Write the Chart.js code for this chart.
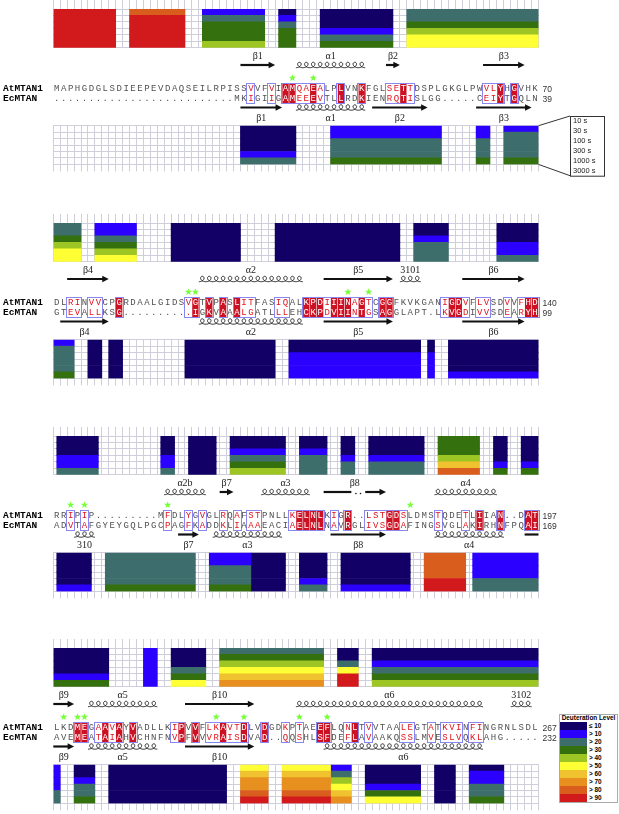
<!DOCTYPE html>
<html>
<head>
<meta charset="utf-8">
<script src="https://cdn.jsdelivr.net/npm/chart.js@4.4.0/dist/chart.umd.min.js"></script>
<style>
html, body { margin: 0; padding: 0; background: #fff; }
#page { position: relative; width: 619px; height: 814px; overflow: hidden; background: #fff; }
.box { position: absolute; left: 0; width: 619px; }
#legend { position: absolute; left: 559px; top: 714px; width: 57px; border: 1px solid #aaa;
  font-family: "Liberation Sans", Arial, sans-serif; font-weight: bold; background: #fff; }
#legend .lt { font-size: 6.4px; height: 6.7px; line-height: 6.7px; text-align: center; white-space: nowrap; }
#legend .lr { height: 8px; display: flex; align-items: center; }
#legend .sw { width: 27px; height: 8px; }
#legend .lb { font-size: 6.4px; margin-left: 2px; }
</style>
</head>
<body>
<div id="page"></div>
<script>
// HDX deuteration maps over the AtMTAN1 / EcMTAN alignment

const timePoints = ['10 s', '30 s', '100 s', '300 s', '1000 s', '3000 s'];
const levelLabels = ['\u2264 10', '> 10', '> 20', '> 30', '> 40', '> 50', '> 60', '> 70', '> 80', '> 90'];
const levelColors = ['#120066', '#2b00ff', '#3e6e6c', '#35700e', '#9dc524',
                     '#ffff35', '#f1c22f', '#e8901f', '#d95e1d', '#d21a1c'];

const atSeq = [
  'MAPHGDGLSDIEEPEVDAQSEILRPISSVVFVIAMQAEALPLVNKFGLSETTDSPLGKGLPWVLYHGVHK',
  'DLRINVVCPGRDAALGIDSVGTVPASLITFASIQALKPDIIINAGTCGGFKVKGANIGDVFLVSDVVFHD',
  'RRIPIP.........MFDLYGVGLRQAFSTPNLLKELNLKIGR..LSTGDSLDMSTQDETLIIAN..DAT',
  'LKDMEGAAVAYVADLLKIPVVFLKAVTDLVDGDKPTAEEFLQNLTVVTAALEGTATKVINFINGRNLSDL'
];
const ecSeq = [
  '..........................MKIGIIGAMEEEVTLLRDKIENRQTISLGG.....CEIYTGQLN',
  'GTEVALLKSG..........IGKVAAALGATLLLEHCKPDVIINTGSAGGLAPT.LKVGDIVVSDEARYHD',
  'ADVTAFGYEYGQLPGCPAGFKADDKLIAAAEACIAELNLNAVRGLIVSGDAFINGSVGLAKIRHNFPQAI',
  'AVEMEATAIAHVCHNFNVPFVVVRAISDVAD..QQSHLSFDEFLAVAAKQSSLMVESLVQKLAHG.....'
];
const atEnd = [70, 140, 197, 267];
const ecEnd = [39, 99, 169, 232];

// R = identical (red box), r = similar (red letter), . = none
const conserved = [
  '............................r..r.RRrrRr..R..R...rrRr..........rrR.R...',
  '..rr.rr..R.........rR.R.R.Rrr...rr..RRRrRRRrRr.RR.......rRRr.rr..r.rRR',
  '..r.r...........r..r.r..r.r.rr....rRRRR.r.R..rrrRRr....r...r.R..R...RR',
  '...RR.rRrR.R.....rR.R.rrRrrR..R..r.r..RR..rR.r....rr..r.rrr.rr........'
];

const atStars = [[35, 38], [20, 21, 43, 46], [3, 5, 17, 52], [2, 4, 5, 24, 28, 36, 40]];

// secondary structure: [type, first edge, last edge, label]
const atSS = [
  [['arrow', 27, 32, '\u03b21'], ['helix', 35, 45, '\u03b11'], ['arrow', 48, 50, '\u03b22'], ['arrow', 62, 68, '\u03b23']],
  [['arrow', 2, 8, '\u03b24'], ['helix', 21, 36, '\u03b12'], ['arrow', 39, 49, '\u03b25'], ['helix', 50, 53, '3101'], ['arrow', 59, 68, '\u03b26']],
  [['helix', 16, 22, '\u03b12b'], ['arrow', 24, 26, '\u03b27'], ['helix', 30, 37, '\u03b13'], ['line', 39, 43, ''], ['dots', 43, 45, ''],
   ['arrow', 45, 48, ''], ['label', 39, 48, '\u03b28'], ['helix', 55, 64, '\u03b14']],
  [['arrow', 0, 3, '\u03b29'], ['helix', 5, 15, '\u03b15'], ['arrow', 19, 29, '\u03b210'], ['helix', 35, 62, '\u03b16'], ['helix', 66, 69, '3102']]
];
const ecSS = [
  [['arrow', 27, 33, '\u03b21'], ['helix', 35, 45, '\u03b11'], ['arrow', 46, 54, '\u03b22'], ['arrow', 61, 69, '\u03b23']],
  [['arrow', 1, 8, '\u03b24'], ['helix', 21, 36, '\u03b12'], ['arrow', 39, 49, '\u03b25'], ['arrow', 59, 68, '\u03b26']],
  [['helix', 3, 6, '310'], ['arrow', 18, 21, '\u03b27'], ['helix', 23, 33, '\u03b13'], ['arrow', 40, 48, '\u03b28'], ['helix', 55, 65, '\u03b14'], ['line', 68, 70, '']],
  [['arrow', 0, 3, '\u03b29'], ['helix', 5, 15, '\u03b15'], ['arrow', 19, 29, '\u03b210'], ['helix', 39, 62, '\u03b16']]
];

// peptides: [start edge, end edge, level index per time point]
const atPeptides = [
  [[0, 9, [9, 9, 9, 9, 9, 9]], [11, 19, [8, 9, 9, 9, 9, 9]], [21.5, 30.5, [1, 2, 3, 3, 3, 4]],
   [32.5, 35, [0, 1, 2, 3, 3, 3]], [38.5, 49, [0, 0, 0, 1, 2, 3]], [51, 70, [2, 2, 3, 4, 5, 5]]],
  [[0, 4, [2, 2, 3, 4, 5, 5]], [6, 12, [1, 1, 2, 3, 4, 5]], [17, 27, [0, 0, 0, 0, 0, 0]],
   [32, 50, [0, 0, 0, 0, 0, 0]], [52, 57, [0, 0, 1, 2, 2, 2]], [64, 70, [0, 0, 0, 1, 1, 2]]],
  [[0.5, 6.5, [0, 0, 0, 1, 1, 2]], [15.5, 17.5, [0, 0, 0, 1, 1, 2]], [19.5, 23.5, [0, 0, 0, 0, 0, 0]],
   [25.5, 33.5, [0, 0, 1, 2, 3, 4]], [35.5, 39.5, [0, 0, 1, 2, 2, 2]], [41.5, 43.5, [0, 0, 0, 1, 2, 2]],
   [45.5, 53.5, [0, 0, 0, 1, 2, 2]], [55.5, 61.5, [3, 3, 3, 4, 6, 8]], [63.5, 65.5, [0, 0, 0, 0, 1, 3]],
   [67.5, 70, [0, 0, 0, 0, 1, 3]]],
  [[0, 8, [0, 0, 0, 0, 1, 3]], [13, 15, [1, 1, 1, 1, 1, 1]], [17, 22, [0, 0, 0, 2, 3, 5]],
   [24, 39, [2, 3, 4, 5, 6, 7]], [41, 44, [0, 0, 2, 5, 9, 9]], [46, 70, [0, 0, 1, 2, 3, 4]]]
];
const ecPeptides = [
  [[27, 35, [0, 0, 0, 0, 1, 2]], [40, 56, [1, 1, 2, 2, 2, 3]], [61, 63, [1, 1, 2, 2, 2, 3]], [65, 70, [1, 2, 2, 2, 2, 3]]],
  [[0, 3, [1, 2, 2, 2, 2, 3]], [5, 7, [0, 0, 0, 0, 0, 0]], [8, 10, [0, 0, 0, 0, 0, 0]], [19, 32, [0, 0, 0, 0, 0, 0]],
   [34, 53, [0, 0, 1, 1, 1, 1]], [54, 55, [0, 0, 1, 1, 1, 1]], [57, 70, [0, 0, 0, 0, 0, 1]]],
  [[0.5, 5.5, [0, 0, 0, 0, 0, 1]], [7.5, 20.5, [2, 2, 2, 2, 2, 3]], [22.5, 28.5, [1, 1, 2, 2, 2, 3]],
   [28.5, 33.5, [0, 0, 0, 0, 0, 0]], [35.5, 39.5, [0, 0, 0, 0, 1, 2]], [41.5, 51.5, [0, 0, 0, 0, 0, 1]],
   [53.5, 59.5, [8, 8, 8, 8, 9, 9]], [60.5, 70, [1, 1, 1, 1, 2, 2]]],
  [[0, 1, [1, 1, 1, 1, 2, 2]], [3, 6, [0, 0, 1, 2, 2, 3]], [8, 25, [0, 0, 0, 0, 0, 0]], [27, 31, [5, 6, 7, 7, 8, 9]],
   [33, 40, [5, 6, 7, 7, 8, 9]], [40, 43, [1, 2, 4, 5, 6, 7]], [45, 53, [0, 0, 0, 1, 3, 5]], [55, 58, [0, 0, 0, 0, 0, 0]],
   [60, 65, [0, 1, 1, 2, 2, 3]]]
];

// ---------- layout ----------
const blockTop = [0, 214, 427, 639];
const gridColor = '#cfcfdb';
const padX = { left: 53.3, right: 80.5 };
const ROW = { label: 56.5, ss: 65, star: 78, at: 89, ec: 98.8, boxTop: 83.5, boxBot: 103.5, ecSS: 107.5, ecLabel: 118 };
const page = document.getElementById('page');

function makeCanvas(top, height) {
  const div = document.createElement('div');
  div.className = 'box';
  div.style.top = top + 'px';
  div.style.height = height + 'px';
  const cv = document.createElement('canvas');
  div.appendChild(cv);
  page.appendChild(div);
  return cv;
}

function drawArrow(ctx, x0, x1, y, head) {
  ctx.lineWidth = 2.2;
  ctx.beginPath();
  ctx.moveTo(x0, y);
  ctx.lineTo(head ? x1 - 5 : x1, y);
  ctx.stroke();
  if (head) {
    ctx.beginPath();
    ctx.moveTo(x1, y);
    ctx.lineTo(x1 - 6.5, y - 3.3);
    ctx.lineTo(x1 - 6.5, y + 3.3);
    ctx.closePath();
    ctx.fill();
  }
}

function drawHelix(ctx, x0, x1, y, n) {
  const a = (x1 - x0) / (n * 2 * Math.PI), rx = 3.3, ry = 2.7;
  ctx.lineWidth = 0.9;
  ctx.beginPath();
  for (let i = 0; i <= n * 40; i++) {
    const t = i / 40 * 2 * Math.PI;
    const px = x0 + a * t + rx * Math.sin(t);
    const py = y + ry * Math.cos(t);
    if (i === 0) ctx.moveTo(px, py); else ctx.lineTo(px, py);
  }
  ctx.stroke();
}

function drawStar(ctx, cx, cy) {
  ctx.beginPath();
  for (let i = 0; i < 10; i++) {
    const r = i % 2 ? 1.6 : 3.8;
    const ang = -Math.PI / 2 + i * Math.PI / 5;
    ctx.lineTo(cx + r * Math.cos(ang), cy + r * Math.sin(ang));
  }
  ctx.closePath();
  ctx.fill();
}

function drawStructure(ctx, sx, items, ySS, yLabel) {
  ctx.fillStyle = '#111';
  ctx.strokeStyle = '#111';
  ctx.font = '10px "Liberation Serif", serif';
  ctx.textAlign = 'center';
  ctx.textBaseline = 'middle';
  items.forEach(([type, s, e, label]) => {
    const x0 = sx.getPixelForValue(s), x1 = sx.getPixelForValue(e);
    if (type === 'arrow') drawArrow(ctx, x0, x1, ySS, true);
    if (type === 'line') drawArrow(ctx, x0, x1, ySS, false);
    if (type === 'helix') drawHelix(ctx, x0, x1, ySS, e - s);
    if (type === 'dots') {
      ctx.beginPath();
      ctx.arc(x0 + (x1 - x0) * 0.33, ySS + 1.5, 0.8, 0, 2 * Math.PI);
      ctx.arc(x0 + (x1 - x0) * 0.66, ySS + 1.5, 0.8, 0, 2 * Math.PI);
      ctx.fill();
    }
    if (label) {
      ctx.fillStyle = '#222';
      ctx.fillText(label, (x0 + x1) / 2, yLabel);
      ctx.fillStyle = '#111';
    }
  });
}

// sequence alignment, stars and secondary structure under the top map
const alignLayer = {
  id: 'alignLayer',
  afterDraw(chart, args, opts) {
    const b = opts.block;
    const sx = chart.scales.x;
    const ctx = chart.ctx;
    const w = sx.getPixelForValue(1) - sx.getPixelForValue(0);
    const cx = i => sx.getPixelForValue(i + 0.5);
    ctx.save();

    drawStructure(ctx, sx, atSS[b], ROW.ss, ROW.label);
    drawStructure(ctx, sx, ecSS[b], ROW.ecSS, ROW.ecLabel);

    ctx.fillStyle = '#77ff3a';
    atStars[b].forEach(c => drawStar(ctx, cx(c - 1), ROW.star));

    const marks = conserved[b];
    // red boxes
    ctx.fillStyle = '#cc1122';
    for (let i = 0; i < 70; i++) {
      if (marks[i] === 'R') ctx.fillRect(sx.getPixelForValue(i) + 0.3, ROW.boxTop + 0.5, w - 0.6, ROW.boxBot - ROW.boxTop - 1);
    }
    // blue frames around similar runs
    ctx.strokeStyle = '#8a86f0';
    ctx.lineWidth = 1;
    let i = 0;
    while (i < 70) {
      if (marks[i] !== '.') {
        let j = i;
        while (j + 1 < 70 && marks[j + 1] !== '.') j++;
        const x0 = sx.getPixelForValue(i), x1 = sx.getPixelForValue(j + 1);
        ctx.strokeRect(Math.round(x0) - 0.5, ROW.boxTop, Math.round(x1 - x0) + 1, ROW.boxBot - ROW.boxTop);
        i = j + 1;
      } else i++;
    }
    // letters
    ctx.font = '9px "Liberation Mono", monospace';
    ctx.textAlign = 'center';
    ctx.textBaseline = 'middle';
    [[atSeq[b], ROW.at], [ecSeq[b], ROW.ec]].forEach(([seq, y]) => {
      for (let k = 0; k < 70; k++) {
        ctx.fillStyle = marks[k] === 'R' ? '#ffffff' : marks[k] === 'r' ? '#e0141c' : '#505050';
        ctx.fillText(seq[k], cx(k), y);
      }
    });
    // names and residue numbers
    ctx.fillStyle = '#000';
    ctx.textAlign = 'left';
    ctx.font = 'bold 9.5px "Liberation Mono", monospace';
    ctx.fillText('AtMTAN1', 3, ROW.at);
    ctx.fillText('EcMTAN', 3, ROW.ec);
    ctx.font = '8.5px "Liberation Sans", Arial, sans-serif';
    ctx.fillStyle = '#333';
    ctx.fillText(String(atEnd[b]), chart.chartArea.right + 4, ROW.at + 1);
    ctx.fillText(String(ecEnd[b]), chart.chartArea.right + 4, ROW.ec + 1);
    ctx.restore();
  }
};

// time point key beside the first EcMTAN map
const timeKey = {
  id: 'timeKey',
  afterDraw(chart) {
    const a = chart.chartArea;
    const ctx = chart.ctx;
    const bx = a.right + 31.5, by = a.top - 9.7, bw = 34, bh = 59.7;
    ctx.save();
    ctx.strokeStyle = '#333';
    ctx.lineWidth = 1;
    ctx.beginPath();
    ctx.moveTo(a.right, a.top);
    ctx.lineTo(bx, by);
    ctx.moveTo(a.right, a.bottom);
    ctx.lineTo(bx, by + bh);
    ctx.stroke();
    ctx.fillStyle = '#fff';
    ctx.fillRect(bx, by, bw, bh);
    ctx.strokeRect(bx + 0.5, by + 0.5, bw, bh);
    ctx.fillStyle = '#222';
    ctx.font = '7.5px "Liberation Sans", Arial, sans-serif';
    ctx.textBaseline = 'middle';
    timePoints.forEach((t, k) => ctx.fillText(t, bx + 3, by + 5 + k * 10));
    ctx.restore();
  }
};

function heatmap(canvas, peptides, pos, padding, plugins, pluginOpts) {
  return new Chart(canvas, {
    type: 'bar',
    data: {
      labels: timePoints,
      datasets: peptides.map(p => ({
        data: timePoints.map(() => [p[0], p[1]]),
        backgroundColor: p[2].map(l => levelColors[l]),
        borderWidth: 0,
        grouped: false,
        categoryPercentage: 1,
        barPercentage: 1
      }))
    },
    options: {
      indexAxis: 'y',
      responsive: true,
      maintainAspectRatio: false,
      animation: false,
      layout: { padding },
      plugins: Object.assign({ legend: { display: false }, tooltip: { enabled: false } }, pluginOpts),
      scales: {
        x: {
          type: 'linear', position: pos, min: 0, max: 70,
          ticks: { display: false, stepSize: 1, autoSkip: false, maxTicksLimit: 100 },
          grid: { color: gridColor, lineWidth: 1, tickLength: pos === 'top' ? 9 : 7 },
          border: { display: false }
        },
        y: {
          ticks: { display: false },
          grid: { color: gridColor, offset: true, drawTicks: false },
          border: { display: false }
        }
      }
    },
    plugins
  });
}

blockTop.forEach((top, b) => {
  const cvTop = makeCanvas(top, 124);
  heatmap(cvTop, atPeptides[b], 'top',
    { left: padX.left, right: padX.right, top: 0, bottom: 76.3 },
    [alignLayer], { alignLayer: { block: b } });
  const cvBot = makeCanvas(top + 110, 70);
  heatmap(cvBot, ecPeptides[b], 'bottom',
    { left: padX.left, right: padX.right, top: 15.7, bottom: 8.6 },
    b === 0 ? [timeKey] : [], {});
});

// deuteration level key
const legend = document.createElement('div');
legend.id = 'legend';
legend.innerHTML = '<div class="lt">Deuteration Level</div>' +
  levelLabels.map((l, k) => '<div class="lr"><span class="sw" style="background:' + levelColors[k] +
    '"></span><span class="lb">' + l + '</span></div>').join('');
page.appendChild(legend);
</script>
</body>
</html>
